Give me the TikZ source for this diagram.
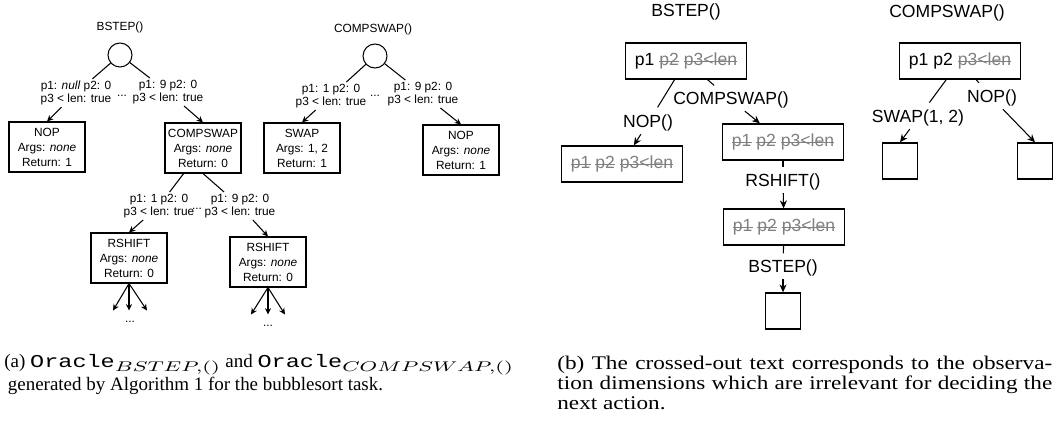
\documentclass[tikz,border=0pt]{standalone}
\usepackage{fontspec}
\usepackage{graphicx}
\setmainfont{Liberation Serif}
\setsansfont{Liberation Sans}
\setmonofont{Liberation Mono}
\newfontfamily\capfont{Liberation Serif}[FakeStretch=1.2]
\usetikzlibrary{positioning}
\usetikzlibrary{arrows.meta}
\usetikzlibrary{calc}
\newcommand{\xo}[1]{\textcolor{gray}{\setbox0\hbox{#1}\rlap{\rule[0.4ex]{\wd0}{0.7pt}}\box0}}
\newcommand{\orc}[1]{\scalebox{1.3}[1]{\fontsize{10.3}{11}\ttfamily Oracle}$_{\scalebox{1.5}[1]{$\scriptstyle #1$}}$}
\tikzset{
   sm/.style={font=\sffamily\fontsize{6.75}{7.4}\selectfont, inner sep=1pt, align=center},
   lg/.style={font=\sffamily\fontsize{10}{12}\selectfont, inner sep=1.5pt},
   root/.style={draw, circle, minimum size=0.48cm, inner sep=0pt, line width=0.6pt},
   op/.style={draw, font=\sffamily\fontsize{6.75}{8.5}\selectfont, align=center,
      minimum width=1.52cm, minimum height=1cm, inner sep=1pt, line width=0.6pt},
   obs/.style={lg, draw, minimum width=2.42cm, minimum height=0.72cm, line width=0.8pt},
   leaf/.style={draw, minimum width=0.7cm, minimum height=0.72cm, line width=0.8pt},
   edge/.style={line width=0.6pt},
   arr/.style={line width=0.6pt, -{Stealth[length=3.6pt,width=3.4pt]}},
   barr/.style={line width=0.6pt, -{Stealth[length=4.5pt,width=4pt]}},
   capt/.style={font=\fontsize{10.8}{11}\selectfont, align=left, inner sep=0pt}
}

\begin{document}
\begin{tikzpicture}[x=0.02cm, y=-0.02cm]
   \useasboundingbox (0,0) rectangle (1057,423);

   \node[sm] (t1) at (120,27) {BSTEP()};
   \node[root] (r1) at (120,55) {};
   \node[sm] (l1) at (76,93) {p1: \textit{null} p2: 0\\p3 < len: true};
   \node[sm] (l2) at (168,92) {p1: 9 p2: 0\\p3 < len: true};
   \node[sm] (d1) at (122,96) {...};
   \node[op] (b1) at (47,147) {NOP\\Args: \textit{none}\\Return: 1};
   \node[op] (b2) at (203,148) {COMPSWAP\\Args: \textit{none}\\Return: 0};
   \node[sm] (l3) at (159,206) {p1: 1 p2: 0\\p3 < len: true};
   \node[sm] (l4) at (240,206) {p1: 9 p2: 0\\p3 < len: true};
   \node[sm] (d2) at (197,209) {...};
   \node[op] (b3) at (129,258) {RSHIFT\\Args: \textit{none}\\Return: 0};
   \node[op] (b4) at (268,262) {RSHIFT\\Args: \textit{none}\\Return: 0};
   \coordinate[below left=0.54cm and 0.32cm of b3.south] (f1);
   \coordinate[below=0.54cm of b3.south] (f2);
   \coordinate[below right=0.54cm and 0.36cm of b3.south] (f3);
   \coordinate[below left=0.54cm and 0.34cm of b4.south] (f4);
   \coordinate[below=0.54cm of b4.south] (f5);
   \coordinate[below right=0.54cm and 0.34cm of b4.south] (f6);
   \node[sm] (d3) at (130,322) {...};
   \node[sm] (d4) at (268,326) {...};

   \node[sm] (t2) at (373,29) {COMPSWAP()};
   \node[root] (r2) at (375,56) {};
   \node[sm] (l5) at (331,96) {p1: 1 p2: 0\\p3 < len: true};
   \node[sm] (l6) at (423,94) {p1: 9 p2: 0\\p3 < len: true};
   \node[sm] (d5) at (375,96) {...};
   \node[op] (b5) at (302,148) {SWAP\\Args: 1, 2\\Return: 1};
   \node[op] (b6) at (461,150) {NOP\\Args: \textit{none}\\Return: 1};

   \draw[edge] (r1) -- (l1);
   \draw[edge] (r1) -- (l2);
   \draw[arr] (l1) -- (b1.north);
   \draw[arr] (l2) -- (b2.north);
   \draw[edge] (b2) -- (l3);
   \draw[edge] (b2.south) -- (l4);
   \draw[arr] (l3) -- (b3.north);
   \draw[arr] (l4) -- (b4.north);
   \foreach \f in {f1,f2,f3}
      \draw[arr] (b3.south) -- (\f);
   \foreach \f in {f4,f5,f6}
      \draw[arr] (b4.south) -- (\f);
   \draw[edge] (r2) -- (l5);
   \draw[edge] (r2) -- (l6);
   \draw[arr] (l5) -- (b5.north);
   \draw[arr] (l6) -- (b6.north);

   \node[lg] (t3) at (686,12) {BSTEP()};
   \node[obs] (o1) at (686,61) {p1 \xo{p2} \xo{p3<len}};
   \node[lg] (a1) at (648,123) {NOP()};
   \node[lg] (a2) at (731,100) {COMPSWAP()};
   \node[obs] (o2) at (622,164) {\xo{p1} \xo{p2} \xo{p3<len}};
   \node[obs] (o3) at (783,142) {\xo{p1} \xo{p2} \xo{p3<len}};
   \node[lg] (a3) at (783,182) {RSHIFT()};
   \node[obs] (o4) at (784,227) {\xo{p1} \xo{p2} \xo{p3<len}};
   \node[lg] (a4) at (783,268) {BSTEP()};
   \node[leaf] (o5) at (783,311) {};

   \node[lg] (t4) at (947,13) {COMPSWAP()};
   \node[obs] (o6) at (960,61) {p1 p2 \xo{p3<len}};
   \node[lg] (a5) at (918,118) {SWAP(1, 2)};
   \node[lg] (a6) at (992,98) {NOP()};
   \node[leaf] (o7) at (900,161) {};
   \node[leaf] (o8) at (1035,161) {};

   \draw[edge, shorten >=3pt] (o1) -- (a1);
   \draw[barr] (a1) -- (o2);
   \draw[edge, shorten >=3pt] (o1) -- (a2);
   \draw[barr] (a2) -- (o3);
   \draw[edge, shorten >=2pt] (o3) -- (a3);
   \draw[barr] (a3) -- (o4);
   \draw[edge, shorten >=2pt] (o4) -- (a4);
   \draw[barr] (a4) -- (o5);
   \draw[edge, shorten >=3pt] (o6) -- (a5);
   \draw[barr] (a5) -- (o7.north);
   \draw[edge, shorten >=3pt] (o6) -- (a6);
   \draw[barr] (a6) -- (o8.north);

   \node[capt, anchor=north west] (c1) at (4,354)
      {(a) \orc{BSTEP,()} and \orc{COMPSWAP,()}\\
       \hspace*{2pt}generated by Algorithm 1 for the bubblesort task.};
   \node[capt, anchor=north west, text width=9.9cm, align=justify,
      font=\capfont\fontsize{11}{11.3}\selectfont] (c2) at (557,356)
      {(b) The crossed-out text corresponds to the observa-\linebreak
       tion dimensions which are irrelevant for deciding the\linebreak
       next action.};
\end{tikzpicture}
\end{document}
